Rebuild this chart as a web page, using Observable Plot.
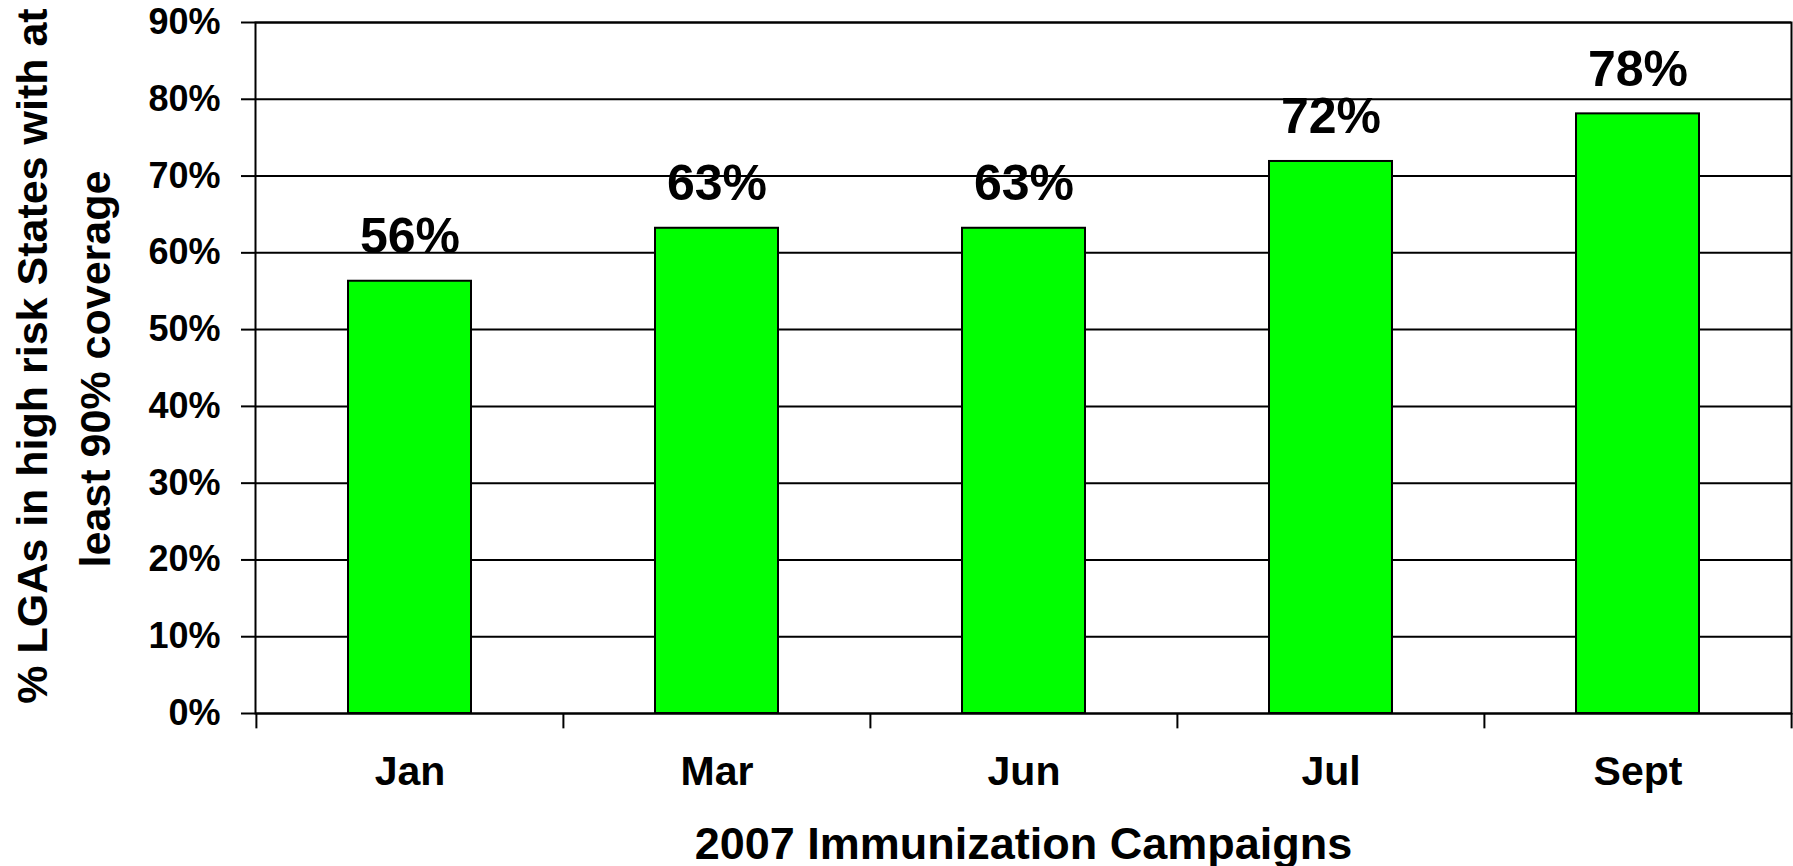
<!DOCTYPE html>
<html>
<head>
<meta charset="utf-8">
<script src="https://cdn.jsdelivr.net/npm/d3@7"></script>
<script src="https://cdn.jsdelivr.net/npm/@observablehq/plot@0.6"></script>
<style>
  html, body { margin: 0; padding: 0; background: #fff; }
  #chart svg { display: block; }
</style>
</head>
<body>
<div id="chart"></div>
<script>
// ---- data ----
const campaigns = ["Jan", "Mar", "Jun", "Jul", "Sept"];
const coverage = [0.563, 0.632, 0.632, 0.719, 0.781];
const yTicks = [0, 0.1, 0.2, 0.3, 0.4, 0.5, 0.6, 0.7, 0.8, 0.9];
const xTitle = "2007 Immunization Campaigns";
const yTitleLines = ["% LGAs in high risk States with at", "least 90% coverage"];

// ---- layout ----
const data = campaigns.map((c, i) => ({campaign: c, value: coverage[i]}));
const W = 1793, H = 866, mL = 255, mR = 2, mT = 22, mB = 153;
const step = (W - mL - mR) / campaigns.length;
const font = "'Liberation Sans', Arial, Helvetica, sans-serif";
const pct = d3.format(".0%");

const chart = Plot.plot({
  width: W, height: H,
  marginLeft: mL, marginRight: mR, marginTop: mT, marginBottom: mB,
  style: {fontFamily: font, fontWeight: "bold", background: "#fff", color: "#000", overflow: "visible"},
  x: {domain: campaigns, paddingInner: 0.6, paddingOuter: 0.3},
  y: {domain: [0, 0.9]},
  marks: [
    Plot.ruleY(yTicks, {stroke: "#000", strokeWidth: 2}),
    Plot.frame({stroke: "#000", strokeWidth: 2}),
    Plot.ruleX(campaigns, {x: d => d, dx: -step / 2, y1: 0, y2: -0.02, stroke: "#000", strokeWidth: 2}),
    Plot.ruleX([campaigns[campaigns.length - 1]], {x: d => d, dx: step / 2, y1: 0, y2: -0.02, stroke: "#000", strokeWidth: 2}),
    Plot.barY(data, {x: "campaign", y: "value", fill: "#00ff00", stroke: "#000", strokeWidth: 2}),
    Plot.text(data, {x: "campaign", y: "value", text: d => pct(d.value), lineAnchor: "bottom", dy: -28,
      fontSize: 50, fontWeight: "bold", fill: "#000"}),
    Plot.axisY({ticks: yTicks, tickFormat: pct, tickSize: 14, tickPadding: 21, fontSize: 36,
      fontWeight: "bold", strokeWidth: 2, label: null}),
    Plot.axisX({tickSize: 0, tickPadding: 42, fontSize: 41, fontWeight: "bold", label: null}),
    Plot.text([xTitle], {text: d => d, frameAnchor: "bottom", textAnchor: "middle", lineAnchor: "bottom", dy: 145,
      fontSize: 45, fontWeight: "bold", fill: "#000"}),
    Plot.text([yTitleLines[0]], {text: d => d, frameAnchor: "left", textAnchor: "middle", rotate: -90, dx: -222, dy: -12,
      fontSize: 43, fontWeight: "bold", fill: "#000"}),
    Plot.text([yTitleLines[1]], {text: d => d, frameAnchor: "left", textAnchor: "middle", rotate: -90, dx: -159, dy: 1,
      fontSize: 43, fontWeight: "bold", fill: "#000"})
  ]
});

document.getElementById("chart").appendChild(chart);
</script>
</body>
</html>
